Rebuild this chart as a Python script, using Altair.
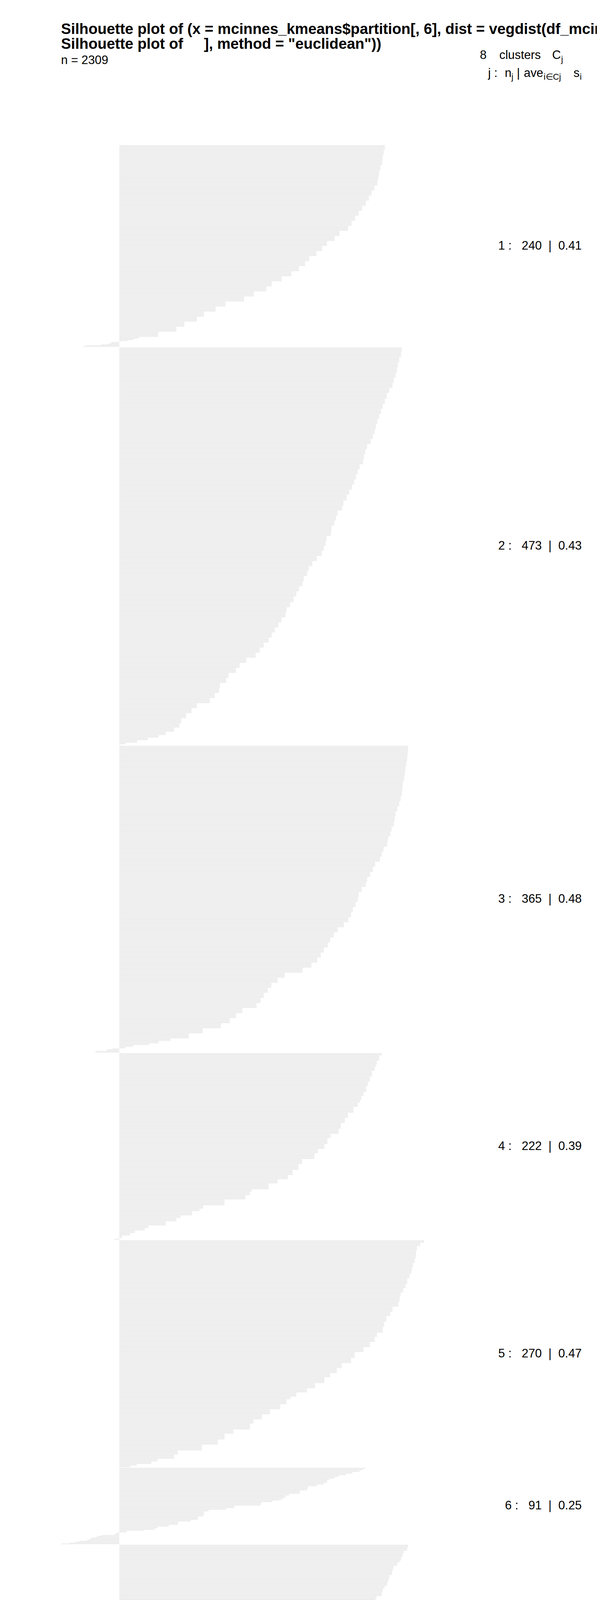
import altair as alt
import numpy as np
import pandas as pd

FONT = "Liberation Sans"
NB = "\u00a0"

# silhouette widths per cluster (sorted) and how many bars share each width
c1_width = [0.596, 0.593, 0.591, 0.590, 0.586, 0.583, 0.581, 0.579, 0.572, 0.566,
            0.560, 0.553, 0.545, 0.537, 0.529, 0.521, 0.513, 0.494, 0.483, 0.466,
            0.455, 0.442, 0.426, 0.417, 0.403, 0.386, 0.364, 0.342, 0.330, 0.302,
            0.280, 0.238, 0.216, 0.190, 0.174, 0.146, 0.128, 0.087, 0.044, 0.034,
            0.029, 0.019, 0.003, -0.018, -0.019, -0.026, -0.041, -0.076, -0.081]
c1_count = [6, 6, 6, 6, 6, 6, 6, 6, 6, 6,
            6, 6, 6, 6, 6, 6, 6, 6, 6, 6,
            6, 6, 6, 6, 6, 6, 6, 6, 6, 6,
            6, 6, 6, 6, 6, 6, 6, 6, 2, 1,
            1, 1, 1, 1, 1, 1, 1, 1, 1]

c2_width = [0.634, 0.632, 0.628, 0.625, 0.623, 0.620, 0.616, 0.613, 0.606, 0.600,
            0.596, 0.591, 0.587, 0.583, 0.579, 0.576, 0.573, 0.569, 0.564, 0.556,
            0.552, 0.549, 0.547, 0.539, 0.535, 0.531, 0.527, 0.522, 0.516, 0.510,
            0.503, 0.500, 0.490, 0.486, 0.482, 0.476, 0.475, 0.465, 0.463, 0.459,
            0.454, 0.443, 0.433, 0.425, 0.421, 0.414, 0.411, 0.403, 0.397, 0.391,
            0.383, 0.375, 0.373, 0.364, 0.357, 0.349, 0.342, 0.335, 0.324, 0.315,
            0.306, 0.285, 0.270, 0.262, 0.245, 0.240, 0.226, 0.224, 0.214, 0.203,
            0.174, 0.162, 0.150, 0.139, 0.135, 0.123, 0.104, 0.088, 0.064, 0.040,
            0.014, 0.001]
c2_count = [6, 6, 6, 6, 6, 6, 6, 6, 6, 7,
            6, 6, 6, 6, 6, 6, 6, 6, 6, 6,
            6, 6, 6, 6, 6, 6, 6, 6, 6, 7,
            6, 6, 6, 6, 6, 6, 6, 6, 6, 6,
            6, 6, 6, 6, 6, 6, 6, 6, 6, 7,
            6, 6, 6, 6, 6, 6, 6, 6, 6, 6,
            6, 6, 6, 6, 6, 6, 6, 6, 6, 6,
            6, 6, 6, 6, 5, 5, 4, 3, 3, 3,
            2, 1]

c3_width = [0.648, 0.647, 0.646, 0.644, 0.642, 0.641, 0.639, 0.636, 0.635, 0.634,
            0.631, 0.628, 0.624, 0.620, 0.618, 0.616, 0.611, 0.608, 0.603, 0.601,
            0.593, 0.589, 0.585, 0.574, 0.569, 0.563, 0.556, 0.553, 0.544, 0.537,
            0.535, 0.530, 0.524, 0.520, 0.514, 0.504, 0.490, 0.481, 0.473, 0.468,
            0.459, 0.452, 0.444, 0.431, 0.411, 0.371, 0.355, 0.341, 0.333, 0.324,
            0.317, 0.308, 0.276, 0.262, 0.248, 0.228, 0.187, 0.156, 0.115, 0.088,
            0.067, 0.031, 0.014, -0.016, -0.028, -0.052, -0.055]
c3_count = [6, 6, 6, 6, 6, 6, 6, 6, 6, 6,
            6, 6, 6, 6, 6, 6, 6, 6, 6, 6,
            6, 6, 6, 6, 6, 6, 6, 6, 6, 6,
            6, 6, 6, 6, 6, 6, 6, 6, 6, 6,
            6, 6, 6, 6, 6, 6, 6, 6, 6, 6,
            6, 6, 6, 6, 6, 6, 6, 6, 3, 3,
            2, 2, 2, 1, 2, 1, 1]

c4_width = [0.589, 0.583, 0.578, 0.575, 0.573, 0.567, 0.562, 0.558, 0.554, 0.548,
            0.543, 0.540, 0.535, 0.525, 0.513, 0.506, 0.497, 0.492, 0.474, 0.467,
            0.460, 0.446, 0.438, 0.410, 0.402, 0.389, 0.378, 0.355, 0.335, 0.297,
            0.293, 0.283, 0.236, 0.188, 0.180, 0.163, 0.137, 0.128, 0.104, 0.065,
            0.057, 0.035, 0.024, 0.006, -0.004, -0.012]
c4_count = [3, 6, 5, 3, 4, 7, 6, 5, 7, 5,
            5, 3, 5, 7, 6, 6, 7, 6, 5, 7,
            6, 5, 7, 6, 7, 6, 5, 5, 7, 3,
            4, 5, 7, 4, 3, 5, 3, 4, 5, 3,
            3, 3, 3, 3, 1, 1]

c5_width = [0.684, 0.675, 0.668, 0.666, 0.665, 0.663, 0.659, 0.657, 0.655, 0.651,
            0.646, 0.642, 0.637, 0.631, 0.629, 0.626, 0.613, 0.608, 0.599, 0.594,
            0.591, 0.578, 0.573, 0.562, 0.548, 0.528, 0.520, 0.499, 0.488, 0.473,
            0.460, 0.439, 0.421, 0.397, 0.384, 0.375, 0.361, 0.338, 0.320, 0.301,
            0.293, 0.256, 0.236, 0.221, 0.185, 0.131, 0.123, 0.086, 0.072, 0.039,
            0.024]
c5_count = [3, 4, 5, 5, 5, 5, 5, 4, 4, 5,
            7, 5, 5, 5, 6, 6, 6, 5, 7, 6,
            7, 5, 6, 6, 6, 7, 6, 6, 6, 5,
            7, 6, 5, 5, 3, 6, 6, 6, 6, 5,
            7, 5, 7, 6, 7, 5, 5, 3, 3, 2,
            2]

c6_width = [0.553, 0.547, 0.539, 0.523, 0.508, 0.492, 0.483, 0.471, 0.466, 0.459,
            0.443, 0.423, 0.421, 0.405, 0.381, 0.373, 0.366, 0.359, 0.343, 0.318,
            0.316, 0.258, 0.240, 0.200, 0.190, 0.188, 0.176, 0.160, 0.132, 0.111,
            0.086, 0.079, 0.055, 0.016, -0.004, -0.009, -0.039, -0.048, -0.052, -0.063,
            -0.069, -0.073, -0.089, -0.099, -0.112, -0.130]
c6_count = [1, 2, 2, 2, 2, 2, 2, 2, 3, 2,
            2, 3, 2, 4, 2, 3, 2, 1, 2, 3,
            1, 3, 2, 2, 4, 2, 4, 2, 4, 2,
            2, 2, 1, 2, 1, 2, 1, 1, 1, 2,
            1, 1, 1, 1, 1, 1]

c7_width = [0.648, 0.646, 0.639, 0.636, 0.635, 0.632, 0.629, 0.624, 0.615, 0.613,
            0.612, 0.606, 0.604, 0.601, 0.595, 0.591, 0.589, 0.577, 0.575, 0.567,
            0.556, 0.550, 0.548, 0.541, 0.533, 0.527, 0.524, 0.519, 0.514, 0.509,
            0.503, 0.498, 0.491, 0.486, 0.481, 0.465, 0.452, 0.444, 0.438, 0.431,
            0.418, 0.410, 0.402, 0.392, 0.390, 0.380, 0.376, 0.346, 0.334, 0.324,
            0.318, 0.307, 0.291, 0.287, 0.277, 0.274, 0.265, 0.264, 0.252, 0.245,
            0.233, 0.232, 0.221, 0.213, 0.199, 0.173, 0.152, 0.149, 0.118, 0.110,
            0.098, 0.088, 0.078, 0.067, 0.054, 0.049, 0.035, 0.014, 0.009, -0.012]
c7_count = [3, 4, 3, 3, 2, 4, 2, 4, 4, 3,
            4, 4, 4, 5, 3, 4, 5, 3, 4, 4,
            4, 3, 4, 5, 5, 3, 4, 2, 4, 3,
            3, 3, 3, 4, 5, 4, 2, 3, 4, 4,
            3, 4, 4, 3, 4, 3, 4, 2, 4, 2,
            4, 3, 3, 5, 3, 4, 4, 2, 2, 4,
            2, 3, 2, 2, 2, 3, 2, 3, 3, 3,
            3, 2, 2, 3, 2, 2, 2, 2, 2, 1]

c8_width = [0.575, 0.556, 0.549, 0.540, 0.535, 0.528, 0.519, 0.513, 0.502, 0.497,
            0.491, 0.480, 0.471, 0.466, 0.458, 0.452, 0.444, 0.437, 0.426, 0.419,
            0.411, 0.399, 0.392, 0.384, 0.374, 0.367, 0.362, 0.357, 0.350, 0.345,
            0.341, 0.335, 0.327, 0.320, 0.315, 0.309, 0.306, 0.300, 0.290, 0.284,
            0.273, 0.265, 0.258, 0.248, 0.233, 0.222, 0.214, 0.204, 0.199, 0.189,
            0.171, 0.166, 0.155, 0.140, 0.127, 0.121, 0.106, 0.094, 0.078, 0.062,
            0.047, 0.026, 0.013, 0.004, 0.001,
            -0.002, -0.004, -0.008, -0.015, -0.023, -0.027, -0.043, -0.067, -0.078, -0.084,
            -0.090, -0.091, -0.095, -0.099, -0.124]
c8_count = [3, 4, 5, 8, 7, 5, 7, 6, 8, 6,
            6, 7, 7, 7, 7, 6, 6, 6, 7, 6,
            7, 6, 7, 7, 6, 7, 7, 7, 6, 6,
            6, 5, 7, 6, 7, 6, 6, 7, 5, 5,
            7, 5, 5, 7, 6, 7, 6, 6, 5, 5,
            5, 6, 5, 8, 6, 5, 5, 5, 5, 5,
            3, 3, 3, 1, 2,
            1, 1, 1, 1, 1, 1, 1, 1, 1, 1,
            1, 1, 1, 1, 1]

cluster_n = [240, 473, 365, 222, 270, 91, 257, 391]
cluster_avg = [0.41, 0.43, 0.48, 0.39, 0.47, 0.25, 0.42, 0.31]
average_width = 0.41
n_total = 2309

widths = [c1_width, c2_width, c3_width, c4_width, c5_width, c6_width, c7_width, c8_width]
counts = [c1_count, c2_count, c3_count, c4_count, c5_count, c6_count, c7_count, c8_count]

# barplot positions: one unit per bar, half a unit between clusters (as plot.silhouette does)
bar_rows = []
lab_rows = []
pos = 0.0
for j, (w, c) in enumerate(zip(widths, counts)):
    s = np.repeat(w, c)
    assert len(s) == cluster_n[j], (j, len(s))
    start = pos
    for v in s:
        bar_rows.append({"cluster": j + 1, "pos": pos + 0.5, "start": 0.0, "width": float(v)})
        pos += 1
    lab = f"{j + 1}{NB}:{NB*3}{cluster_n[j]}{NB*2}|{NB*2}{cluster_avg[j]:.2f}"
    lab_rows.append({"pos": start + cluster_n[j] / 2, "label": lab})
    pos += 0.5
pos -= 0.5

bars_df = pd.DataFrame(bar_rows)
labs_df = pd.DataFrame(lab_rows)

FS = 31
SUB = 22

pad = 0.04 * pos
yscale = alt.Scale(domain=[-pad, pos + pad], reverse=True, nice=False, zero=False)
xscale = alt.Scale(domain=[0, 1], nice=False, zero=False)

bars = alt.Chart(bars_df).mark_rule(color="#dcdcdc", strokeWidth=1).encode(
    x=alt.X("start:Q", scale=xscale,
            axis=alt.Axis(values=[0, 0.2, 0.4, 0.6, 0.8, 1.0], format=".1f", title=None,
                          grid=False, labelFont=FONT, labelFontSize=FS, labelColor="black",
                          tickColor="black", tickSize=20, tickWidth=1.2,
                          domainColor="black", domainWidth=1.4, labelPadding=24,
                          labelFlush=False)),
    x2="width:Q",
    y=alt.Y("pos:Q", scale=yscale, axis=None),
)

cl_labels = alt.Chart(labs_df).mark_text(
    font=FONT, fontSize=FS, align="right", baseline="middle", color="black"
).encode(
    text="label:N",
    x=alt.value(1497 - 307),
    y=alt.Y("pos:Q", scale=yscale, axis=None),
)


def txt(s, px, py, size=FS, weight="normal", align="left"):
    # px, py: page pixel position of the text's left end and baseline
    return alt.Chart(alt.Data(values=[{"t": s}])).mark_text(
        font=FONT, fontSize=size, fontWeight=weight, align=align,
        baseline="alphabetic", color="black"
    ).encode(text="t:N", x=alt.value(px - 307), y=alt.value(py - 158))


title1 = "Silhouette plot of (x = mcinnes_kmeans$partition[, 6], dist = vegdist(df_mcinnes".replace(" ", NB)
title2 = ("Silhouette plot of" + NB * 5 + '], method = "euclidean"))').replace(" ", NB)

texts = [
    txt(title1, 157, 72, 38.5, "bold"),
    txt(title2, 157, 110, 38.5, "bold"),
    txt(f"n{NB}={NB}{n_total}", 157, 150),
    txt("8", 1235, 137),
    txt("clusters", 1285, 137),
    txt("C", 1421, 137),
    txt("j", 1444, 145, SUB),
    txt(f"j{NB}:", 1256, 183),
    txt("n", 1299, 183),
    txt("j", 1316, 190, SUB),
    txt("|", 1330, 183),
    txt("ave", 1348, 183),
    txt("i\u2208Cj", 1399, 190, SUB),
    txt("s", 1476, 183),
    txt("i", 1492, 190, SUB),
    txt(f"Silhouette{NB}width{NB}s", 679, 5685),
    txt("i", 923, 5692, SUB),
    txt(f"Average{NB}silhouette{NB}width{NB}:{NB}{NB}{average_width:.2f}", 157, 5748),
]

chart = alt.layer(bars, cl_labels, *texts).properties(
    width=1147,
    height=5406,
    padding={"left": 299, "top": 150, "right": 82, "bottom": 188},
    autosize="none",
    background="white",
).configure_view(stroke=None)

chart.save("out.html", embed_options={"renderer": "svg", "actions": False})
